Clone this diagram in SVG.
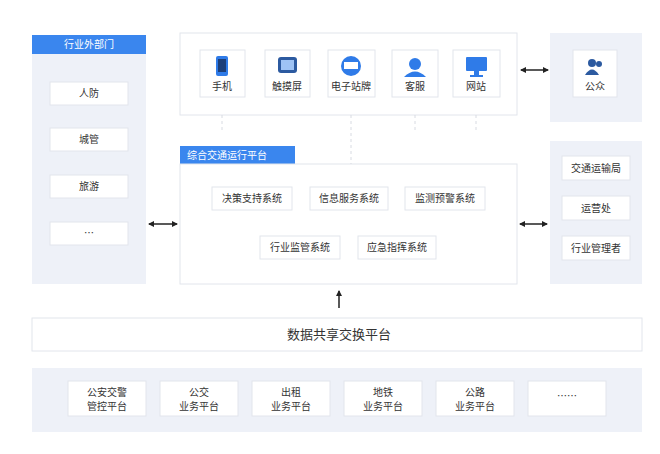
<svg xmlns="http://www.w3.org/2000/svg" width="660" height="454" viewBox="0 0 660 454">
<style>
text{font-family:"Noto Sans CJK SC","Noto Sans",sans-serif;fill:#333;text-anchor:middle}
.bg{fill:#eef1f8}
.box{fill:#fff;stroke:#e2e5ec;stroke-width:1}
.hd{fill:#3a86ee}
.hdt{fill:#fff;font-size:10px}
.t{font-size:10px}
.ic{fill:#2f7be8}
.cn{stroke:#222;stroke-width:1.5;fill:none}
.dash{stroke:#d8dbe2;stroke-width:1;stroke-dasharray:3 3;fill:none}
</style>
<defs>
<marker id="ah" markerWidth="6" markerHeight="6" refX="5" refY="3" orient="auto-start-reverse" markerUnits="userSpaceOnUse"><path d="M0,0 L6,3 L0,6 Z" fill="#222"/></marker>
</defs>
<rect width="660" height="454" fill="#fff"/>

<g id="outside">
<rect class="bg" x="32" y="35" width="114" height="249"/>
<rect class="hd" x="32" y="35" width="114" height="19"/>
<text class="hdt" x="89" y="48">行业外部门</text>
<rect class="box" x="50" y="82" width="78" height="23"/><text class="t" x="89" y="97">人防</text>
<rect class="box" x="50" y="128" width="78" height="23"/><text class="t" x="89" y="143">城管</text>
<rect class="box" x="50" y="175" width="78" height="23"/><text class="t" x="89" y="190">旅游</text>
<rect class="box" x="50" y="222" width="78" height="23"/><text class="t" x="89" y="237">…</text>
</g>

<g id="channels">
<rect class="box" x="180" y="33" width="337" height="82"/>
<g id="phone"><rect class="box" x="200" y="50" width="45" height="47"/><rect class="ic" x="216" y="56" width="12" height="20" rx="2"/><rect x="218" y="59" width="8" height="13" fill="#1c3f7a"/><text class="t" x="222" y="90">手机</text></g>
<g id="touch"><rect class="box" x="265" y="50" width="45" height="47"/><rect x="278" y="57" width="19" height="16" rx="3" fill="#2c5aa0"/><rect x="281" y="60" width="13" height="10" fill="#9ec3f5"/><text class="t" x="287" y="90">触摸屏</text></g>
<g id="sign"><rect class="box" x="328" y="50" width="47" height="47"/><circle class="ic" cx="351" cy="66" r="10"/><rect x="344" y="62" width="14" height="7" fill="#fff"/><text class="t" x="351" y="90">电子站牌</text></g>
<g id="service"><rect class="box" x="392" y="50" width="46" height="47"/><circle class="ic" cx="415" cy="64" r="6"/><path class="ic" d="M404,77 Q415,66 426,77 Z"/><text class="t" x="415" y="90">客服</text></g>
<g id="web"><rect class="box" x="453" y="50" width="47" height="47"/><rect class="ic" x="466" y="57" width="21" height="14" rx="1"/><rect x="474" y="71" width="5" height="4" fill="#2f7be8"/><rect x="470" y="75" width="13" height="2" fill="#2f7be8"/><text class="t" x="476" y="90">网站</text></g>
</g>

<g id="public">
<rect class="bg" x="550" y="33" width="92" height="89"/>
<rect class="box" x="573" y="50" width="44" height="47"/>
<circle fill="#2c5aa0" cx="592" cy="63" r="4"/><path fill="#2c5aa0" d="M585,75 Q592,64 599,75 Z"/><circle fill="#2c5aa0" cx="599" cy="64" r="3"/>
<text class="t" x="595" y="90">公众</text>
</g>

<g id="platform">
<rect class="hd" x="180" y="146" width="115" height="18"/>
<text class="hdt" x="227" y="159">综合交通运行平台</text>
<rect class="box" x="180" y="164" width="337" height="120"/>
<rect class="box" x="212" y="187" width="80" height="23"/><text class="t" x="252" y="202">决策支持系统</text>
<rect class="box" x="310" y="187" width="78" height="23"/><text class="t" x="349" y="202">信息服务系统</text>
<rect class="box" x="405" y="187" width="80" height="23"/><text class="t" x="445" y="202">监测预警系统</text>
<rect class="box" x="260" y="236" width="80" height="23"/><text class="t" x="300" y="251">行业监管系统</text>
<rect class="box" x="358" y="236" width="78" height="23"/><text class="t" x="397" y="251">应急指挥系统</text>
</g>

<g id="managers">
<rect class="bg" x="550" y="141" width="92" height="143"/>
<rect class="box" x="562" y="156" width="68" height="24"/><text class="t" x="596" y="172">交通运输局</text>
<rect class="box" x="562" y="196" width="68" height="24"/><text class="t" x="596" y="212">运营处</text>
<rect class="box" x="562" y="236" width="68" height="24"/><text class="t" x="596" y="252">行业管理者</text>
</g>

<g id="exchange">
<rect class="box" x="32" y="318" width="610" height="33"/>
<text x="339" y="339" font-size="13">数据共享交换平台</text>
</g>

<g id="business">
<rect class="bg" x="32" y="368" width="610" height="64"/>
<rect class="box" x="68" y="381" width="78" height="35"/><text class="t" x="107" y="396">公安交警</text><text class="t" x="107" y="410">管控平台</text>
<rect class="box" x="160" y="381" width="78" height="35"/><text class="t" x="199" y="396">公交</text><text class="t" x="199" y="410">业务平台</text>
<rect class="box" x="252" y="381" width="78" height="35"/><text class="t" x="291" y="396">出租</text><text class="t" x="291" y="410">业务平台</text>
<rect class="box" x="344" y="381" width="78" height="35"/><text class="t" x="383" y="396">地铁</text><text class="t" x="383" y="410">业务平台</text>
<rect class="box" x="436" y="381" width="78" height="35"/><text class="t" x="475" y="396">公路</text><text class="t" x="475" y="410">业务平台</text>
<rect class="box" x="528" y="381" width="78" height="35"/><text class="t" x="567" y="400">……</text>
</g>

<g id="connectors">
<path class="dash" d="M351,115 V164 M415,115 V130 M476,115 V130 M222,115 V130"/>
<line class="cn" x1="521" y1="70" x2="548" y2="70" marker-start="url(#ah)" marker-end="url(#ah)"/>
<line class="cn" x1="149" y1="224" x2="177" y2="224" marker-start="url(#ah)" marker-end="url(#ah)"/>
<line class="cn" x1="520" y1="224" x2="547" y2="224" marker-start="url(#ah)" marker-end="url(#ah)"/>
<line class="cn" x1="339" y1="308" x2="339" y2="291" stroke-width="2" marker-end="url(#ah)"/>
</g>
</svg>
